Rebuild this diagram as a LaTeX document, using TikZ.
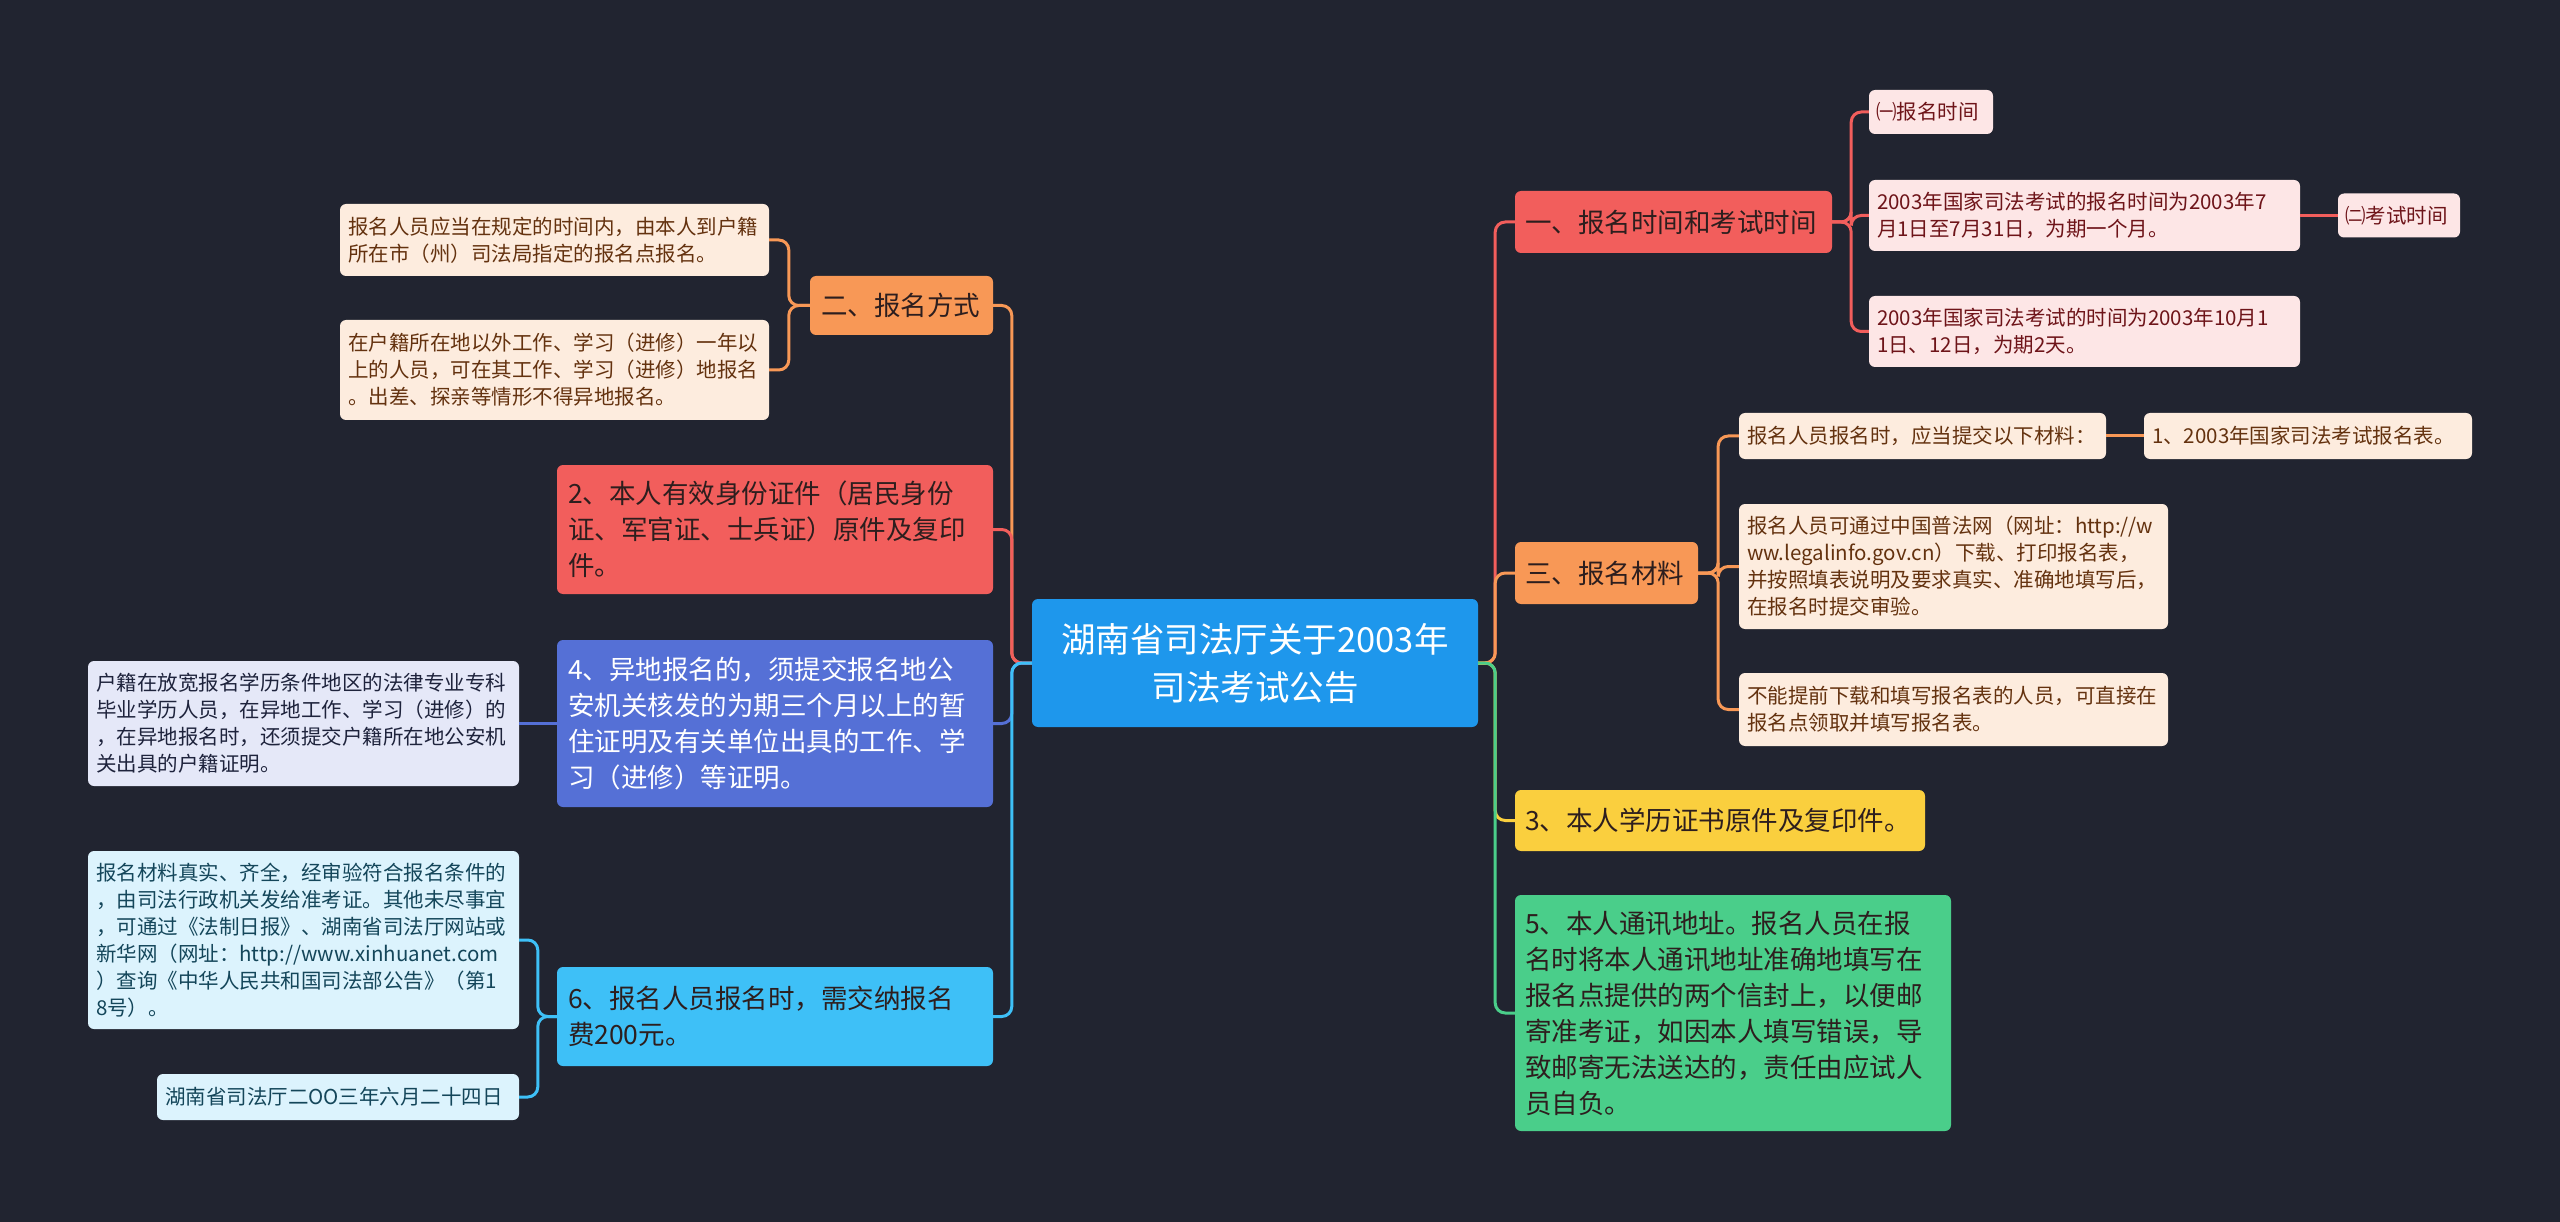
\documentclass[tikz,border=0pt]{standalone}
\usepackage{fontspec}
\setmainfont{Noto Sans CJK SC}
\definecolor{bg}{RGB}{33,36,48}
\definecolor{cCenter}{RGB}{30,151,236}
\definecolor{cRed}{RGB}{242,94,92}
\definecolor{cOrange}{RGB}{248,152,86}
\definecolor{cPurple}{RGB}{85,112,214}
\definecolor{cSky}{RGB}{62,192,247}
\definecolor{cYellow}{RGB}{250,207,62}
\definecolor{cGreen}{RGB}{74,206,138}
\definecolor{lPeach}{RGB}{253,236,222}
\definecolor{tPeach}{RGB}{100,50,15}
\definecolor{lPink}{RGB}{253,230,230}
\definecolor{tPink}{RGB}{110,20,25}
\definecolor{lLav}{RGB}{229,232,248}
\definecolor{tLav}{RGB}{30,35,60}
\definecolor{lCyan}{RGB}{220,243,253}
\definecolor{tCyan}{RGB}{20,70,90}
\definecolor{tDark}{RGB}{45,30,30}
\tikzset{
  box/.style={rounded corners=6pt, inner sep=0pt, align=left},
  lone/.style={box, font=\fontsize{26.5}{36}\selectfont},
  leaf/.style={box, font=\fontsize{20.5}{27}\selectfont},
  conn/.style={line width=3pt, rounded corners=10pt},
  straight/.style={line width=3pt},
}
\begin{document}
\begin{tikzpicture}[x=1pt,y=-1pt]
\fill[bg] (0,0) rectangle (2560,1222);
\useasboundingbox (0,0) rectangle (2560,1222);

% central
\node[box, fill=cCenter, text=white, align=center, minimum width=446pt, minimum height=128pt,
  font=\fontsize{34.5}{48}\selectfont] (c) at (1255,663) {湖南省司法厅关于2003年\\司法考试公告};

% left level 1
\node[lone, fill=cOrange, text=tDark, minimum width=183pt, minimum height=59pt, text width=161pt] (n2fs) at (901.5,305.5) {二、报名方式};
\node[lone, fill=cRed, text=tDark, minimum width=436pt, minimum height=129pt, text width=414pt] (n2id) at (775,529.5) {2、本人有效身份证件（居民身份\\证、军官证、士兵证）原件及复印\\件。};
\node[lone, fill=cPurple, text=white, minimum width=436pt, minimum height=167pt, text width=414pt] (n4) at (775,723.5) {4、异地报名的，须提交报名地公\\安机关核发的为期三个月以上的暂\\住证明及有关单位出具的工作、学\\习（进修）等证明。};
\node[lone, fill=cSky, text=tDark, minimum width=436pt, minimum height=99pt, text width=414pt] (n6) at (775,1016.5) {6、报名人员报名时，需交纳报名\\费200元。};

% left leaves
\node[leaf, fill=lPeach, text=tPeach, minimum width=429pt, minimum height=72pt, text width=413pt] (la) at (554.5,240) {报名人员应当在规定的时间内，由本人到户籍\\所在市（州）司法局指定的报名点报名。};
\node[leaf, fill=lPeach, text=tPeach, minimum width=429pt, minimum height=100pt, text width=413pt] (lb) at (554.5,370) {在户籍所在地以外工作、学习（进修）一年以\\上的人员，可在其工作、学习（进修）地报名\\。出差、探亲等情形不得异地报名。};
\node[leaf, fill=lLav, text=tLav, minimum width=431pt, minimum height=125pt, text width=415pt] (lc) at (303.5,723.5) {户籍在放宽报名学历条件地区的法律专业专科\\毕业学历人员，在异地工作、学习（进修）的\\，在异地报名时，还须提交户籍所在地公安机\\关出具的户籍证明。};
\node[leaf, fill=lCyan, text=tCyan, minimum width=431pt, minimum height=178pt, text width=415pt] (ld) at (303.5,940) {报名材料真实、齐全，经审验符合报名条件的\\，由司法行政机关发给准考证。其他未尽事宜\\，可通过《法制日报》、湖南省司法厅网站或\\新华网（网址：http://www.xinhuanet.com\\）查询《中华人民共和国司法部公告》（第1\\8号）。};
\node[leaf, fill=lCyan, text=tCyan, minimum width=362pt, minimum height=46pt, text width=346pt] (le) at (338,1097) {湖南省司法厅二OO三年六月二十四日};

% right level 1
\node[lone, fill=cRed, text=tDark, minimum width=317pt, minimum height=62pt, text width=297pt] (r1) at (1673.5,222) {一、报名时间和考试时间};
\node[lone, fill=cOrange, text=tDark, minimum width=183pt, minimum height=62pt, text width=163pt] (r3) at (1606.5,573) {三、报名材料};
\node[lone, fill=cYellow, text=tDark, minimum width=410pt, minimum height=61pt, text width=390pt] (r3b) at (1720,820.5) {3、本人学历证书原件及复印件。};
\node[lone, fill=cGreen, text=tDark, minimum width=436pt, minimum height=236pt, text width=416pt] (r5) at (1733,1013) {5、本人通讯地址。报名人员在报\\名时将本人通讯地址准确地填写在\\报名点提供的两个信封上，以便邮\\寄准考证，如因本人填写错误，导\\致邮寄无法送达的，责任由应试人\\员自负。};

% right leaves
\node[leaf, fill=lPink, text=tPink, minimum width=124pt, minimum height=44pt, text width=110pt] (ra) at (1931,112) {㈠报名时间};
\node[leaf, fill=lPink, text=tPink, minimum width=431pt, minimum height=71pt, text width=415pt] (rb) at (2084.5,215.5) {2003年国家司法考试的报名时间为2003年7\\月1日至7月31日，为期一个月。};
\node[leaf, fill=lPink, text=tPink, minimum width=122pt, minimum height=44pt, text width=108pt] (rc) at (2399,215.5) {㈡考试时间};
\node[leaf, fill=lPink, text=tPink, minimum width=431pt, minimum height=71pt, text width=415pt] (rd) at (2084.5,331.5) {2003年国家司法考试的时间为2003年10月1\\1日、12日，为期2天。};
\node[leaf, fill=lPeach, text=tPeach, minimum width=367pt, minimum height=46pt, text width=351pt] (re) at (1922.5,436) {报名人员报名时，应当提交以下材料：};
\node[leaf, fill=lPeach, text=tPeach, minimum width=328pt, minimum height=46pt, text width=312pt] (rf) at (2308,436) {1、2003年国家司法考试报名表。};
\node[leaf, fill=lPeach, text=tPeach, minimum width=429pt, minimum height=125pt, text width=413pt] (rg) at (1953.5,566.5) {报名人员可通过中国普法网（网址：http://w\\ww.legalinfo.gov.cn）下载、打印报名表，\\并按照填表说明及要求真实、准确地填写后，\\在报名时提交审验。};
\node[leaf, fill=lPeach, text=tPeach, minimum width=429pt, minimum height=73pt, text width=413pt] (rh) at (1953.5,709.5) {不能提前下载和填写报名表的人员，可直接在\\报名点领取并填写报名表。};

% connectors: centre to level 1
\draw[conn, cOrange] (c.west) -- ++(-20,0) |- (n2fs.east);
\draw[conn, cRed] (c.west) -- ++(-20,0) |- (n2id.east);
\draw[conn, cPurple] (c.west) -- ++(-20,0) |- (n4.east);
\draw[conn, cSky] (c.west) -- ++(-20,0) |- (n6.east);
\draw[conn, cRed] (c.east) -- ++(17,0) |- (r1.west);
\draw[conn, cOrange] (c.east) -- ++(17,0) |- (r3.west);
\draw[conn, cYellow] (c.east) -- ++(17,0) |- (r3b.west);
\draw[conn, cGreen] (c.east) -- ++(17,0) |- (r5.west);

% level 2 connectors
\draw[conn, cOrange] (n2fs.west) -- ++(-21,0) |- (la.east);
\draw[conn, cOrange] (n2fs.west) -- ++(-21,0) |- (lb.east);
\draw[straight, cPurple] (n4.west) -- (lc.east);
\draw[conn, cSky] (n6.west) -- ++(-19,0) |- (ld.east);
\draw[conn, cSky] (n6.west) -- ++(-19,0) |- (le.east);
\draw[conn, cRed] (r1.east) -- ++(19,0) |- (ra.west);
\draw[conn, cRed] (r1.east) -- ++(19,0) |- (rb.west);
\draw[conn, cRed] (r1.east) -- ++(19,0) |- (rd.west);
\draw[straight, cRed] (rb.east) -- (rc.west);
\draw[conn, cOrange] (r3.east) -- ++(20,0) |- (re.west);
\draw[conn, cOrange] (r3.east) -- ++(20,0) |- (rg.west);
\draw[conn, cOrange] (r3.east) -- ++(20,0) |- (rh.west);
\draw[straight, cOrange] (re.east) -- (rf.west);
\end{tikzpicture}
\end{document}
